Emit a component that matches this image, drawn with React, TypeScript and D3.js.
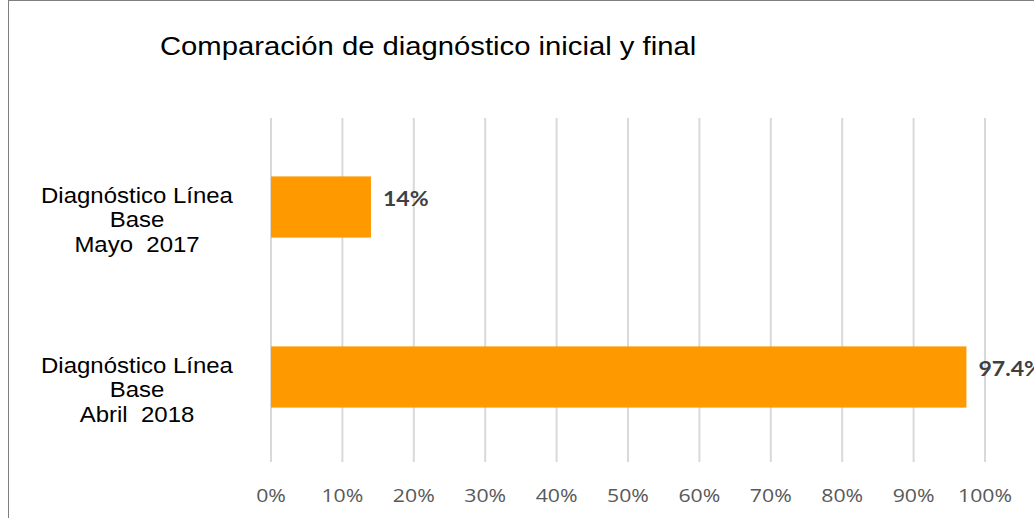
import React from "react";
import * as d3 from "d3";

// Horizontal bar chart: initial vs final diagnosis
const categories = ["Mayo  2017", "Abril  2018"];
const labelLines = ["Diagnóstico Línea", "Base"];
const values = [0.14, 0.974];
const valueLabels = ["14%", "97.4%"];
const ticks = [0, 0.1, 0.2, 0.3, 0.4, 0.5, 0.6, 0.7, 0.8, 0.9, 1];

const W = 1034;
const H = 518;
const plot = { left: 271, right: 985, top: 118, bottom: 462 };
const ARIAL = "Liberation Sans, Arial, sans-serif";

// the original picture is a bit wider than tall, so text is stretched sideways
function Stretch({ x, y, sx, children }: { x: number; y: number; sx: number; children: React.ReactNode }) {
  return <g transform={`translate(${x},${y}) scale(${sx},1)`}>{children}</g>;
}

export default function App() {
  const x = d3.scaleLinear().domain([0, 1]).range([plot.left, plot.right]);
  const y = d3
    .scaleBand<string>()
    .domain(categories)
    .range([122, 462])
    .paddingInner(0.64)
    .paddingOuter(0.32);
  const pct = d3.format(".0%");

  return (
    <svg
      width={W}
      height={H}
      style={{ position: "absolute", left: 0, top: 0, background: "#fff" }}
    >
      <rect x={8.5} y={0.5} width={W} height={H} fill="#fff" stroke="#7f7f7f" strokeWidth={1} />

      <Stretch x={160} y={55} sx={1.17}>
        <text fontFamily={ARIAL} fontSize={25} fill="#000">
          Comparación de diagnóstico inicial y final
        </text>
      </Stretch>

      {/* gridlines */}
      {ticks.map((t) => (
        <line
          key={t}
          x1={x(t)}
          x2={x(t)}
          y1={plot.top}
          y2={plot.bottom}
          stroke="#d9d9d9"
          strokeWidth={2}
        />
      ))}

      {/* bars */}
      {categories.map((c, i) => (
        <rect
          key={c}
          x={x(0)}
          y={y(c)}
          width={x(values[i]) - x(0)}
          height={y.bandwidth()}
          fill="#ff9900"
        />
      ))}

      {/* data labels */}
      {categories.map((c, i) => (
        <Stretch key={c} x={x(values[i]) + 12} y={(y(c) ?? 0) + y.bandwidth() / 2 - 1} sx={1.1}>
          <text fontFamily="Lato, sans-serif" fontWeight="bold" fontSize={21} fill="#404040">
            {valueLabels[i]}
          </text>
        </Stretch>
      ))}

      {/* category labels */}
      {categories.map((c) => {
        const cy = (y(c) ?? 0) + y.bandwidth() / 2;
        const lines = [...labelLines, c];
        return (
          <Stretch key={c} x={137} y={cy} sx={1.09}>
            <text
              textAnchor="middle"
              fontFamily={ARIAL}
              fontSize={22}
              fill="#000"
              style={{ whiteSpace: "pre" }}
            >
              {lines.map((l, j) => (
                <tspan key={j} x={0} y={-4 + j * 24.5}>
                  {l}
                </tspan>
              ))}
            </text>
          </Stretch>
        );
      })}

      {/* x tick labels */}
      {ticks.map((t) => (
        <Stretch key={t} x={x(t)} y={502} sx={1.12}>
          <text textAnchor="middle" fontFamily="Open Sans, sans-serif" fontSize={19} fill="#595959">
            {pct(t)}
          </text>
        </Stretch>
      ))}
    </svg>
  );
}
